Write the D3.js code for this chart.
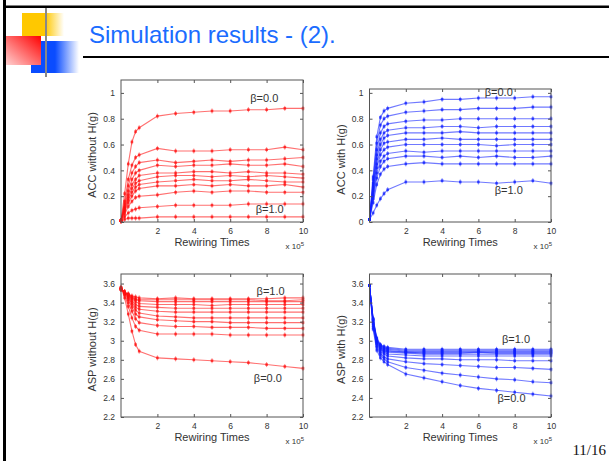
<!DOCTYPE html>
<html lang="en">
<head>
  <meta charset="utf-8">
  <title>Simulation results - (2).</title>
  <script src="https://d3js.org/d3.v7.min.js"></script>
  <style>
    body { margin: 0; background: #fff; }
    svg { display: block; }
    .tick text { font-family: "Liberation Sans", Arial, sans-serif; font-size: 8.5px; fill: #333; }
    .tick line { stroke: #555; }
  </style>
</head>
<body>
<svg id="slide" width="609" height="461"></svg>
<script>

// rewiring times (x 10^5)
var rewiring = [0, 0.2, 0.4, 0.6, 0.8, 1, 2, 3, 4, 5, 6, 7, 8, 9, 10];
var betas = ["0.0", "0.1", "0.2", "0.3", "0.4", "0.5", "0.6", "0.7", "0.8", "0.9", "1.0"];

// ACC without H(g), one row per beta
var accWithout = [
  [0.01, 0.22, 0.45, 0.62, 0.70, 0.73, 0.82, 0.84, 0.85, 0.86, 0.86, 0.87, 0.87, 0.88, 0.88],
  [0.01, 0.16, 0.33, 0.44, 0.50, 0.52, 0.57, 0.55, 0.55, 0.55, 0.56, 0.56, 0.56, 0.58, 0.56],
  [0.01, 0.14, 0.28, 0.38, 0.43, 0.46, 0.48, 0.46, 0.47, 0.48, 0.47, 0.48, 0.48, 0.49, 0.50],
  [0.01, 0.12, 0.24, 0.33, 0.38, 0.40, 0.44, 0.43, 0.44, 0.44, 0.45, 0.44, 0.44, 0.45, 0.43],
  [0.01, 0.11, 0.21, 0.29, 0.33, 0.36, 0.38, 0.38, 0.39, 0.39, 0.38, 0.39, 0.38, 0.38, 0.37],
  [0.01, 0.10, 0.19, 0.26, 0.30, 0.32, 0.35, 0.36, 0.36, 0.35, 0.36, 0.35, 0.36, 0.35, 0.34],
  [0.01, 0.09, 0.17, 0.23, 0.27, 0.29, 0.31, 0.32, 0.33, 0.32, 0.32, 0.33, 0.32, 0.31, 0.31],
  [0.01, 0.08, 0.15, 0.20, 0.24, 0.26, 0.28, 0.28, 0.29, 0.28, 0.29, 0.28, 0.28, 0.29, 0.27],
  [0.01, 0.06, 0.12, 0.16, 0.19, 0.20, 0.21, 0.23, 0.24, 0.23, 0.24, 0.24, 0.23, 0.23, 0.23],
  [0.01, 0.04, 0.07, 0.09, 0.10, 0.11, 0.12, 0.13, 0.13, 0.13, 0.13, 0.14, 0.14, 0.14, 0.14],
  [0.01, 0.02, 0.03, 0.03, 0.03, 0.03, 0.04, 0.04, 0.04, 0.04, 0.04, 0.04, 0.04, 0.04, 0.04]
];

// ACC with H(g)
var accWith = [
  [0.02, 0.35, 0.66, 0.81, 0.86, 0.88, 0.92, 0.93, 0.95, 0.95, 0.96, 0.96, 0.96, 0.97, 0.97],
  [0.02, 0.33, 0.61, 0.75, 0.80, 0.82, 0.85, 0.86, 0.87, 0.87, 0.88, 0.88, 0.88, 0.89, 0.89],
  [0.02, 0.30, 0.56, 0.69, 0.74, 0.76, 0.78, 0.79, 0.79, 0.80, 0.80, 0.80, 0.80, 0.80, 0.80],
  [0.02, 0.28, 0.52, 0.64, 0.69, 0.71, 0.73, 0.73, 0.74, 0.74, 0.73, 0.74, 0.74, 0.74, 0.74],
  [0.02, 0.26, 0.49, 0.60, 0.65, 0.67, 0.69, 0.69, 0.69, 0.70, 0.69, 0.69, 0.69, 0.69, 0.69],
  [0.02, 0.24, 0.45, 0.56, 0.61, 0.62, 0.64, 0.64, 0.65, 0.64, 0.64, 0.64, 0.64, 0.64, 0.64],
  [0.02, 0.22, 0.42, 0.52, 0.56, 0.58, 0.60, 0.60, 0.60, 0.60, 0.60, 0.59, 0.60, 0.60, 0.60],
  [0.02, 0.20, 0.38, 0.47, 0.51, 0.53, 0.55, 0.54, 0.55, 0.55, 0.55, 0.55, 0.55, 0.55, 0.55],
  [0.02, 0.18, 0.34, 0.43, 0.47, 0.49, 0.51, 0.51, 0.50, 0.51, 0.50, 0.51, 0.50, 0.50, 0.51],
  [0.02, 0.15, 0.29, 0.37, 0.41, 0.43, 0.45, 0.46, 0.45, 0.45, 0.45, 0.45, 0.45, 0.45, 0.45],
  [0.02, 0.07, 0.13, 0.18, 0.22, 0.25, 0.31, 0.31, 0.32, 0.31, 0.31, 0.30, 0.31, 0.32, 0.30]
];

// ASP without H(g)
var aspWithout = [
  [3.56, 3.45, 3.28, 3.10, 2.96, 2.89, 2.82, 2.81, 2.80, 2.79, 2.78, 2.77, 2.75, 2.73, 2.71],
  [3.56, 3.48, 3.36, 3.24, 3.15, 3.11, 3.07, 3.07, 3.07, 3.07, 3.06, 3.06, 3.06, 3.06, 3.06],
  [3.55, 3.49, 3.40, 3.31, 3.23, 3.19, 3.16, 3.15, 3.15, 3.14, 3.14, 3.14, 3.13, 3.13, 3.13],
  [3.55, 3.50, 3.43, 3.35, 3.28, 3.25, 3.22, 3.21, 3.20, 3.20, 3.19, 3.19, 3.19, 3.19, 3.19],
  [3.55, 3.51, 3.45, 3.38, 3.32, 3.29, 3.26, 3.25, 3.24, 3.24, 3.24, 3.24, 3.24, 3.24, 3.24],
  [3.54, 3.51, 3.46, 3.40, 3.35, 3.33, 3.31, 3.30, 3.30, 3.30, 3.30, 3.30, 3.30, 3.30, 3.30],
  [3.54, 3.51, 3.47, 3.42, 3.38, 3.36, 3.35, 3.34, 3.34, 3.34, 3.34, 3.34, 3.34, 3.34, 3.34],
  [3.54, 3.51, 3.48, 3.44, 3.41, 3.39, 3.38, 3.38, 3.38, 3.37, 3.38, 3.38, 3.38, 3.38, 3.38],
  [3.54, 3.51, 3.48, 3.45, 3.43, 3.42, 3.41, 3.41, 3.41, 3.41, 3.41, 3.41, 3.41, 3.41, 3.41],
  [3.54, 3.51, 3.49, 3.46, 3.44, 3.43, 3.43, 3.43, 3.43, 3.43, 3.43, 3.43, 3.42, 3.42, 3.43],
  [3.54, 3.51, 3.49, 3.47, 3.46, 3.45, 3.44, 3.45, 3.44, 3.44, 3.44, 3.44, 3.44, 3.45, 3.45]
];

// ASP with H(g)
var aspWith = [
  [3.58, 3.12, 2.90, 2.82, 2.78, 2.75, 2.65, 2.61, 2.57, 2.53, 2.50, 2.48, 2.46, 2.44, 2.42],
  [3.58, 3.14, 2.93, 2.85, 2.81, 2.78, 2.72, 2.69, 2.66, 2.64, 2.62, 2.60, 2.59, 2.57, 2.56],
  [3.58, 3.16, 2.95, 2.87, 2.83, 2.81, 2.78, 2.76, 2.75, 2.74, 2.73, 2.72, 2.72, 2.71, 2.70],
  [3.58, 3.18, 2.97, 2.89, 2.86, 2.84, 2.82, 2.81, 2.81, 2.80, 2.80, 2.80, 2.79, 2.79, 2.79],
  [3.58, 3.19, 2.98, 2.91, 2.88, 2.86, 2.85, 2.84, 2.84, 2.84, 2.84, 2.84, 2.84, 2.84, 2.84],
  [3.58, 3.20, 2.99, 2.92, 2.89, 2.88, 2.87, 2.86, 2.86, 2.86, 2.86, 2.86, 2.86, 2.86, 2.86],
  [3.58, 3.21, 3.00, 2.93, 2.90, 2.89, 2.88, 2.87, 2.87, 2.87, 2.88, 2.87, 2.87, 2.87, 2.87],
  [3.58, 3.22, 3.01, 2.94, 2.91, 2.90, 2.88, 2.88, 2.88, 2.88, 2.88, 2.88, 2.88, 2.88, 2.88],
  [3.58, 3.22, 3.01, 2.95, 2.92, 2.91, 2.89, 2.89, 2.89, 2.89, 2.89, 2.89, 2.89, 2.89, 2.89],
  [3.58, 3.23, 3.02, 2.95, 2.93, 2.92, 2.90, 2.90, 2.90, 2.90, 2.90, 2.90, 2.90, 2.90, 2.90],
  [3.58, 3.23, 3.03, 2.96, 2.94, 2.93, 2.91, 2.91, 2.91, 2.91, 2.91, 2.91, 2.91, 2.91, 2.91]
];

var xTicks = [2, 4, 6, 8, 10];
var accTicks = [0, 0.2, 0.4, 0.6, 0.8, 1];
var aspTicks = [2.2, 2.4, 2.6, 2.8, 3, 3.2, 3.4, 3.6];

// the four panels: frame box in px, y domain, labels
var panels = [
  { data: accWithout, color: "#ff1010", box: [121, 80, 303, 222], yDomain: [0, 1.1], yTicks: accTicks,
    ylabel: "ACC without H(g)", notes: [[7.1, 0.93, "β=0.0"], [7.4, 0.07, "β=1.0"]] },
  { data: accWith, color: "#1020ff", box: [369.5, 89, 551, 222], yDomain: [0, 1.03], yTicks: accTicks,
    ylabel: "ACC with H(g)", notes: [[6.35, 0.975, "β=0.0"], [6.9, 0.215, "β=1.0"]] },
  { data: aspWithout, color: "#ff1010", box: [121, 274, 303, 417], yDomain: [2.2, 3.7], yTicks: aspTicks,
    ylabel: "ASP without H(g)", notes: [[7.45, 3.48, "β=1.0"], [7.3, 2.565, "β=0.0"]] },
  { data: aspWith, color: "#1020ff", box: [369.5, 274, 551, 417], yDomain: [2.2, 3.7], yTicks: aspTicks,
    ylabel: "ASP with H(g)", notes: [[7.3, 2.975, "β=1.0"], [7.05, 2.355, "β=0.0"]] }
];

var svg = d3.select("#slide");
var defs = svg.append("defs");

/* ---------------- slide decoration ---------------- */

function hGrad(id, stops) {
  var g = defs.append("linearGradient").attr("id", id)
      .attr("x1", 0).attr("y1", 0).attr("x2", 1).attr("y2", 0);
  stops.forEach(function(s) {
    g.append("stop").attr("offset", s[0]).attr("stop-color", s[1]).attr("stop-opacity", s[2]);
  });
}
hGrad("yel", [[0, "#ffc800", 1], [0.55, "#ffc800", 1], [1, "#ffc800", 0]]);
hGrad("blu", [[0, "#0a4cff", 1], [0.5, "#0a4cff", 1], [1, "#0a4cff", 0]]);
var red = defs.append("linearGradient").attr("id", "red")
    .attr("x1", 1).attr("y1", 0).attr("x2", 0).attr("y2", 1);
red.append("stop").attr("offset", 0).attr("stop-color", "#ff0000");
red.append("stop").attr("offset", 1).attr("stop-color", "#ffd0d0");

svg.append("rect").attr("x", 22).attr("y", 13).attr("width", 42).attr("height", 23).attr("fill", "url(#yel)");
svg.append("rect").attr("x", 31).attr("y", 41).attr("width", 48).attr("height", 32).attr("fill", "url(#blu)");
svg.append("rect").attr("x", 6).attr("y", 36).attr("width", 35).attr("height", 29).attr("fill", "url(#red)");
svg.append("rect").attr("x", 45).attr("y", 7).attr("width", 2).attr("height", 70).attr("fill", "#888");

// slide border (left + top)
svg.append("rect").attr("x", 3).attr("y", 0).attr("width", 3).attr("height", 461).attr("fill", "#000");
svg.append("rect").attr("x", 3).attr("y", 5.5).attr("width", 606).attr("height", 2.5).attr("fill", "#000");

svg.append("text")
    .attr("x", 89).attr("y", 43)
    .style("font-family", "'Liberation Sans', Arial, sans-serif")
    .style("font-size", "24px")
    .style("fill", "#1a6cff")
    .text("Simulation results - (2).");

svg.append("line")
    .attr("x1", 83).attr("x2", 609).attr("y1", 57).attr("y2", 57)
    .attr("stroke", "#000").attr("stroke-width", 2);

svg.append("text")
    .attr("x", 606).attr("y", 455)
    .attr("text-anchor", "end")
    .style("font-family", "'Liberation Serif', 'Times New Roman', serif")
    .style("font-size", "15px")
    .style("fill", "#111")
    .text("11/16");

/* ---------------- plots ---------------- */

panels.forEach(function(p) {
  var x0 = p.box[0], y0 = p.box[1], x1 = p.box[2], y1 = p.box[3];

  var x = d3.scaleLinear().domain([0, 10]).range([x0, x1]);
  var y = d3.scaleLinear().domain(p.yDomain).range([y1, y0]);

  var g = svg.append("g");

  var line = d3.line()
      .x(function(d, i) { return x(rewiring[i]); })
      .y(function(d) { return y(d); });

  p.data.forEach(function(series) {
    g.append("path")
        .datum(series)
        .attr("d", line)
        .attr("fill", "none")
        .attr("stroke", p.color)
        .attr("stroke-opacity", 0.6)
        .attr("stroke-width", 1.1);

    // little error bars
    g.selectAll(null)
      .data(series)
      .enter().append("line")
        .attr("x1", function(d, i) { return x(rewiring[i]); })
        .attr("x2", function(d, i) { return x(rewiring[i]); })
        .attr("y1", function(d) { return y(d) - 2.5; })
        .attr("y2", function(d) { return y(d) + 2.5; })
        .attr("stroke", p.color)
        .attr("stroke-opacity", 0.5)
        .attr("stroke-width", 1);

    g.selectAll(null)
      .data(series)
      .enter().append("rect")
        .attr("x", function(d, i) { return x(rewiring[i]) - 1.3; })
        .attr("y", function(d) { return y(d) - 1.3; })
        .attr("width", 2.6)
        .attr("height", 2.6)
        .attr("fill", p.color)
        .attr("fill-opacity", 0.75);
  });

  // box + inward ticks, matlab style
  g.append("rect")
      .attr("x", x0).attr("y", y0).attr("width", x1 - x0).attr("height", y1 - y0)
      .attr("fill", "none").attr("stroke", "#555").attr("stroke-width", 1);

  var fmt = d3.format("~g");

  svg.append("g").attr("transform", "translate(0," + y1 + ")")
      .call(d3.axisBottom(x).tickValues(xTicks).tickSize(-3).tickPadding(6).tickFormat(fmt))
      .call(function(a) { a.select(".domain").remove(); });
  svg.append("g").attr("transform", "translate(0," + y0 + ")")
      .call(d3.axisTop(x).tickValues(xTicks).tickSize(-3).tickFormat(""))
      .call(function(a) { a.select(".domain").remove(); });
  svg.append("g").attr("transform", "translate(" + x0 + ",0)")
      .call(d3.axisLeft(y).tickValues(p.yTicks).tickSize(-3).tickPadding(6).tickFormat(fmt))
      .call(function(a) { a.select(".domain").remove(); });
  svg.append("g").attr("transform", "translate(" + x1 + ",0)")
      .call(d3.axisRight(y).tickValues(p.yTicks).tickSize(-3).tickFormat(""))
      .call(function(a) { a.select(".domain").remove(); });

  var font = "'Liberation Sans', Arial, sans-serif";

  svg.append("text")
      .attr("x", (x0 + x1) / 2).attr("y", y1 + 24)
      .attr("text-anchor", "middle")
      .style("font-family", font).style("font-size", "11px").style("fill", "#333")
      .text("Rewiring Times");

  var ex = svg.append("text")
      .attr("x", x1 + 1).attr("y", y1 + 27)
      .attr("text-anchor", "end")
      .style("font-family", font).style("font-size", "8px").style("fill", "#333");
  ex.append("tspan").text("x 10");
  ex.append("tspan").attr("dy", -3).style("font-size", "6px").text("5");

  svg.append("text")
      .attr("transform", "translate(" + (x0 - 25) + "," + ((y0 + y1) / 2 + 4) + ") rotate(-90)")
      .attr("text-anchor", "middle")
      .style("font-family", font).style("font-size", "11px").style("fill", "#333")
      .text(p.ylabel);

  p.notes.forEach(function(n) {
    svg.append("text")
        .attr("x", x(n[0])).attr("y", y(n[1]))
        .style("font-family", font).style("font-size", "11px").style("fill", "#333")
        .text(n[2]);
  });
});

</script>
</body>
</html>
